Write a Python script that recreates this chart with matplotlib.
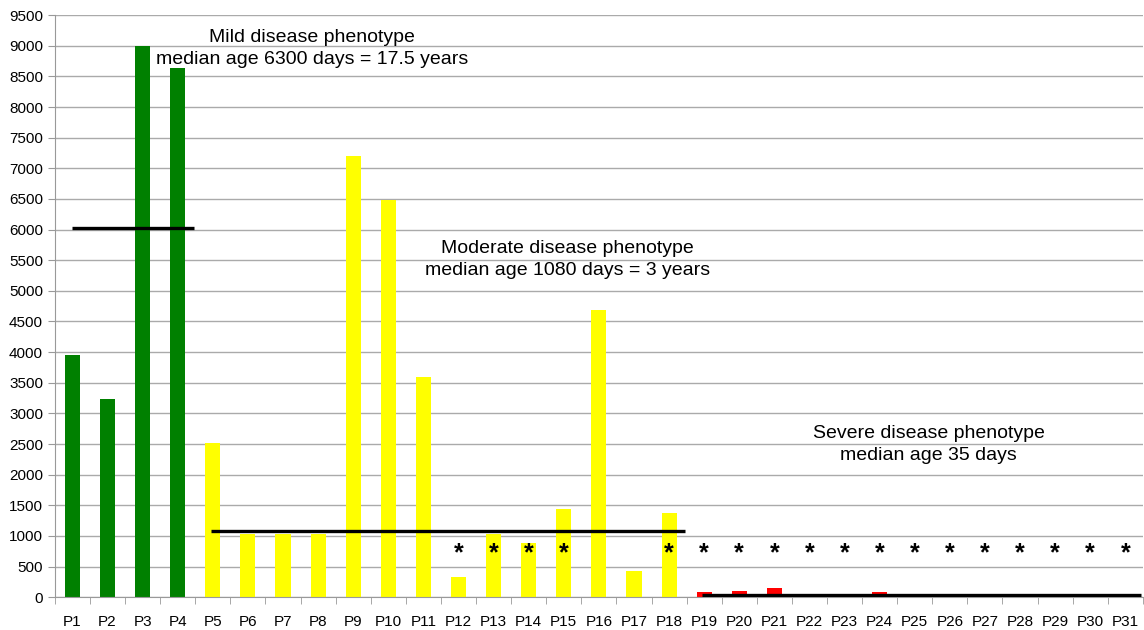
import numpy as np
import matplotlib.pyplot as plt

plt.rcParams['font.family'] = ['Liberation Sans', 'DejaVu Sans']

patients = ['P%d' % i for i in range(1, 32)]
values = [3960, 3240, 9000, 8640,
          2520, 1040, 1040, 1040, 7200, 6490, 3600, 330, 1040, 880, 1440, 4680, 430, 1370,
          80, 100, 150, 30, 10, 80, 10, 10, 10, 10, 10, 10, 10]
colors = ['#008000'] * 4 + ['#FFFF00'] * 14 + ['#FF0000'] * 13
star_patients = ['P12', 'P13', 'P14', 'P15', 'P18'] + ['P%d' % i for i in range(19, 32)]
star_level = 720

# median lines: (value, first patient, last patient)
medians = [(6030, 0, 3), (1080, 4, 17), (35, 18, 30)]
labels = [('Mild disease phenotype\nmedian age 6300 days = 17.5 years', 6.82, 8960),
          ('Moderate disease phenotype\nmedian age 1080 days = 3 years', 14.1, 5510),
          ('Severe disease phenotype\nmedian age 35 days', 24.4, 2490)]

fig = plt.figure(figsize=(11.44, 6.30), dpi=100)
ax = fig.add_axes([0.048, 0.052, 0.951, 0.924])

x = np.arange(len(patients))
ax.bar(x, values, width=0.43, color=colors, zorder=2)

for v, a, b in medians:
    ax.plot([a - 0.05 if a else a, b + 0.45], [v, v], color='black', lw=2.4, zorder=3,
            solid_capstyle='butt')

for p in star_patients:
    ax.text(patients.index(p), star_level, '*', ha='center', va='center', fontsize=18,
            fontweight='bold', zorder=4)

for txt, xc, yc in labels:
    ax.text(xc, yc, txt, ha='center', va='center', fontsize=14, linespacing=1.4)

ax.set_xlim(-0.5, 30.5)
ax.set_ylim(0, 9500)
ax.set_yticks(np.arange(0, 9501, 500))
ax.set_xticks(x)
ax.set_xticklabels(patients)
ax.set_xticks(np.arange(-0.5, 31, 1), minor=True)
ax.tick_params(axis='x', which='major', length=0, labelsize=11, pad=13)
ax.tick_params(axis='x', which='minor', length=5, color='#999999')
ax.tick_params(axis='y', length=5, color='#999999', labelsize=11)
ax.grid(axis='y', color='#aaaaaa', lw=1, zorder=0)
ax.set_axisbelow(True)
for s in ['top', 'right']:
    ax.spines[s].set_visible(False)
ax.spines['left'].set_color('#999999')
ax.spines['bottom'].set_color('#999999')

fig.savefig('out.png', dpi=100)
